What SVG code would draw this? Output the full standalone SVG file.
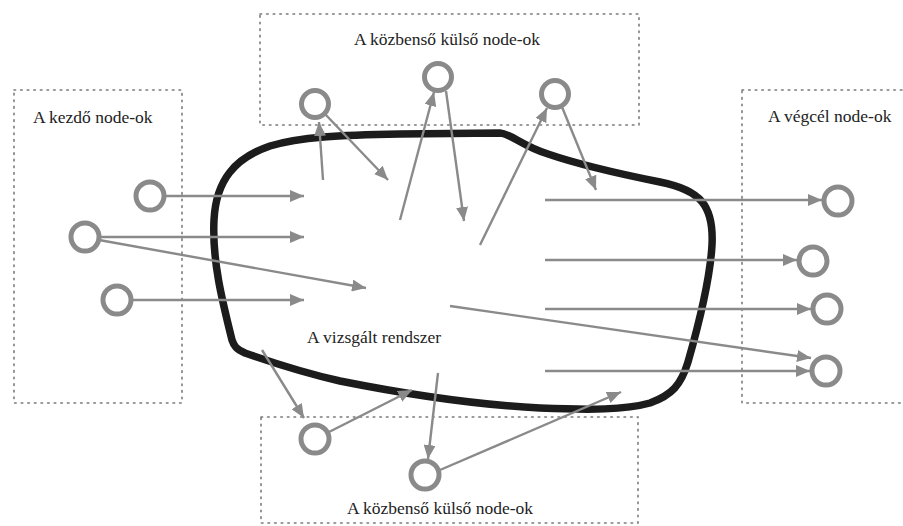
<svg xmlns="http://www.w3.org/2000/svg" width="903" height="526" viewBox="0 0 903 526">
<defs>
<style>
.box{fill:none;stroke:#7a7a7a;stroke-width:1.6;stroke-dasharray:1.6 5;stroke-linecap:round}
.node{fill:none;stroke:#8a8a8a;stroke-width:5}
.conn{stroke:#8a8a8a;stroke-width:2.4;fill:none}
.lbl{font-size:17.5px;fill:#222}
.sys{fill:none;stroke:#1c1c1c;stroke-width:7.5;stroke-linejoin:round}
</style>
<marker id="ah" markerUnits="userSpaceOnUse" markerWidth="14" markerHeight="12" refX="14" refY="6" orient="auto">
<path d="M0,0 L14,6 L0,12 z" fill="#8a8a8a"/>
</marker>
</defs>
<rect width="903" height="526" fill="#fff"/>
<g id="boxes" font-family="'Liberation Serif', 'Times New Roman', 'DejaVu Serif', serif">
<rect class="box" x="14" y="90" width="168" height="313"/>
<rect class="box" x="260" y="14" width="379" height="111"/>
<rect class="box" x="742" y="90" width="180" height="313"/>
<rect class="box" x="261" y="417" width="377" height="106"/>
<text class="lbl" x="33" y="123">A kezdő node-ok</text>
<text class="lbl" x="447" y="45" text-anchor="middle">A közbenső külső node-ok</text>
<text class="lbl" x="768" y="122">A végcél node-ok</text>
<text class="lbl" x="440" y="514" text-anchor="middle">A közbenső külső node-ok</text>
</g>
<g id="system" font-family="'Liberation Serif', 'Times New Roman', 'DejaVu Serif', serif">
<path class="sys" d="M 232,340 C 222,300 212,260 214,220 C 216,180 235,158 270,146 C 300,137 340,135 400,134 L 500,133 C 512,134 520,145 548,154 C 580,165 620,174 660,182 C 700,190 714,205 712,245 C 710,280 700,320 688,362 C 681,385 672,395 650,403 C 625,410 590,410 540,408 C 480,405 420,397 340,381 C 300,372 265,360 245,353 C 236,349 234,346 232,340 Z"/>
<text class="lbl" x="307" y="343">A vizsgált rendszer</text>
</g>
<g id="connectors">
<line class="conn" x1="164" y1="196" x2="304" y2="196" marker-end="url(#ah)"/>
<line class="conn" x1="99" y1="237" x2="304" y2="237" marker-end="url(#ah)"/>
<line class="conn" x1="99" y1="240" x2="366" y2="288" marker-end="url(#ah)"/>
<line class="conn" x1="131" y1="300" x2="304" y2="300" marker-end="url(#ah)"/>
<line class="conn" x1="323" y1="180" x2="319" y2="122" marker-end="url(#ah)"/>
<line class="conn" x1="325" y1="114" x2="388" y2="180" marker-end="url(#ah)"/>
<line class="conn" x1="400" y1="220" x2="434" y2="92" marker-end="url(#ah)"/>
<line class="conn" x1="446" y1="91" x2="464" y2="221" marker-end="url(#ah)"/>
<line class="conn" x1="480" y1="245" x2="547" y2="108" marker-end="url(#ah)"/>
<line class="conn" x1="562" y1="107" x2="596" y2="190" marker-end="url(#ah)"/>
<line class="conn" x1="545" y1="200" x2="822" y2="200" marker-end="url(#ah)"/>
<line class="conn" x1="545" y1="260" x2="797" y2="260" marker-end="url(#ah)"/>
<line class="conn" x1="545" y1="309" x2="811" y2="309" marker-end="url(#ah)"/>
<line class="conn" x1="545" y1="371" x2="810" y2="371" marker-end="url(#ah)"/>
<line class="conn" x1="450" y1="306" x2="811" y2="358" marker-end="url(#ah)"/>
<line class="conn" x1="262" y1="350" x2="304" y2="418" marker-end="url(#ah)"/>
<line class="conn" x1="327" y1="433" x2="412" y2="390" marker-end="url(#ah)"/>
<line class="conn" x1="438" y1="373" x2="428" y2="459" marker-end="url(#ah)"/>
<line class="conn" x1="440" y1="470" x2="621" y2="392" marker-end="url(#ah)"/>
</g>
<g id="n-start1"><circle class="node" cx="150" cy="196" r="14"/></g>
<g id="n-start2"><circle class="node" cx="85" cy="237" r="14"/></g>
<g id="n-start3"><circle class="node" cx="117" cy="300" r="14"/></g>
<g id="n-top1"><circle class="node" cx="315" cy="104" r="13.5"/></g>
<g id="n-top2"><circle class="node" cx="438" cy="77" r="13.5"/></g>
<g id="n-top3"><circle class="node" cx="555" cy="94" r="13.5"/></g>
<g id="n-end1"><circle class="node" cx="838" cy="201" r="14"/></g>
<g id="n-end2"><circle class="node" cx="813" cy="261" r="14"/></g>
<g id="n-end3"><circle class="node" cx="827" cy="309" r="14"/></g>
<g id="n-end4"><circle class="node" cx="826" cy="371" r="14"/></g>
<g id="n-bot1"><circle class="node" cx="315" cy="439" r="14"/></g>
<g id="n-bot2"><circle class="node" cx="425" cy="475" r="14"/></g>
</svg>
